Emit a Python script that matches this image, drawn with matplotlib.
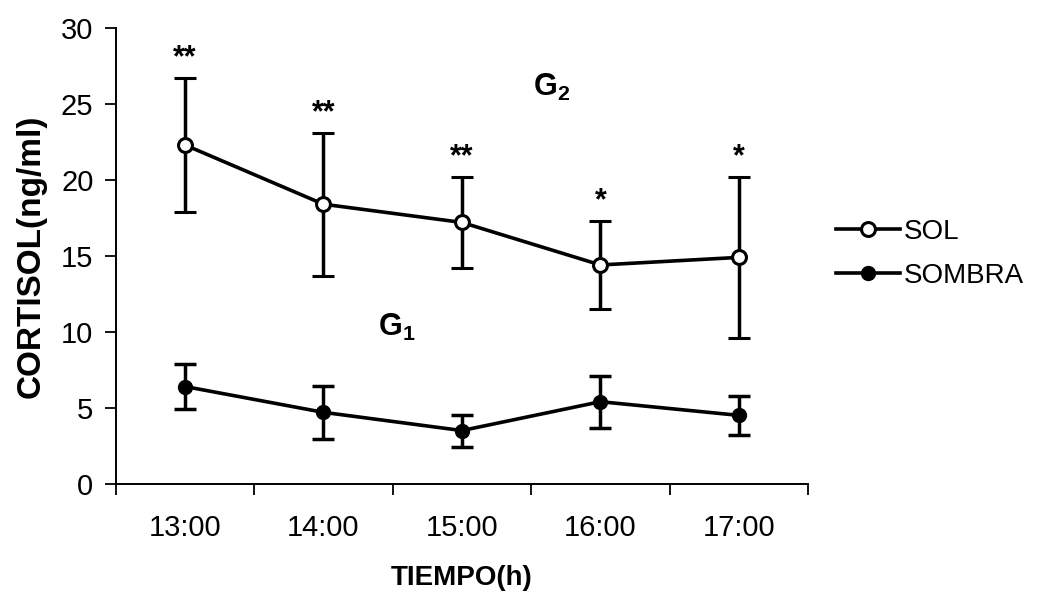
import matplotlib
matplotlib.use('Agg')
import matplotlib.pyplot as plt

plt.rcParams['font.family'] = ['Liberation Sans', 'DejaVu Sans']
plt.rcParams['mathtext.fontset'] = 'custom'
plt.rcParams['mathtext.rm'] = 'Liberation Sans'
plt.rcParams['mathtext.bf'] = 'Liberation Sans:bold'

horas = ['13:00', '14:00', '15:00', '16:00', '17:00']
sol = [22.3, 18.4, 17.2, 14.4, 14.9]
sol_err = [4.4, 4.7, 3.0, 2.9, 5.3]
sombra = [6.4, 4.7, 3.5, 5.4, 4.5]
sombra_err = [1.5, 1.75, 1.05, 1.7, 1.3]
signif = ['**', '**', '**', '*', '*']


fig = plt.figure(figsize=(10.51, 5.95), dpi=100)
ax = fig.add_axes([0.110, 0.187, 0.659, 0.766])

x = list(range(1, len(horas) + 1))
ax.errorbar(x, sol, yerr=sol_err, color='black', lw=2.6, elinewidth=2.5,
            capsize=8, capthick=2.5, marker='o', ms=10, mfc='white',
            mec='black', mew=2.2, label='SOL', zorder=3)
ax.errorbar(x, sombra, yerr=sombra_err, color='black', lw=2.6,
            elinewidth=2.5, capsize=8, capthick=2.5, marker='o', ms=10,
            mfc='black', mec='black', label='SOMBRA', zorder=3)

# asterisks above the SOL error bars
for xi, m, e, s in zip(x, sol, sol_err, signif):
    ax.text(xi, m + e + 1.3, s, ha='center', va='center', fontsize=22,
            fontweight='bold')

ax.text(3.65, 26.1, r'$\mathbf{G_2}$', ha='center', va='center', fontsize=22)
ax.text(2.53, 10.3, r'$\mathbf{G_1}$', ha='center', va='center', fontsize=22)

ax.set_xlim(0.5, len(horas) + 0.5)
ax.set_ylim(0, 30)
ax.set_yticks(range(0, 31, 5))
ax.set_xticks(x)
ax.set_xticklabels(horas)
ax.set_xticks([i + 0.5 for i in range(len(horas) + 1)], minor=True)
ax.tick_params(axis='x', which='major', length=0, pad=22, labelsize=21)
ax.tick_params(axis='x', which='minor', length=8, width=1.3, direction='out')
ax.tick_params(axis='y', length=8, width=1.3, direction='out', labelsize=21,
               pad=8)

for side in ['top', 'right']:
    ax.spines[side].set_visible(False)
for side in ['left', 'bottom']:
    ax.spines[side].set_linewidth(1.4)

ax.set_xlabel('TIEMPO(h)', fontsize=20, fontweight='bold', labelpad=16)
ax.set_ylabel('CORTISOL(ng/ml)', fontsize=24, fontweight='bold', labelpad=10)

handles, labels = ax.get_legend_handles_labels()
handles = [h[0] for h in handles]
ax.legend(handles, labels, loc='center left', bbox_to_anchor=(1.04, 0.505),
          frameon=False, fontsize=20, handlelength=2.3, handletextpad=0.15,
          labelspacing=0.65, borderpad=0, borderaxespad=0)

fig.savefig('out.png', dpi=100)
